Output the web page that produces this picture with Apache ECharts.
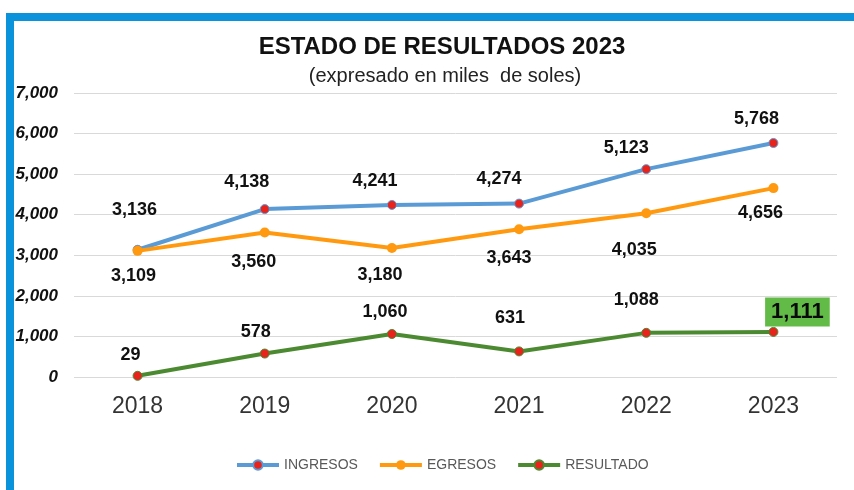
<!DOCTYPE html>
<html><head><meta charset="utf-8">
<script src="https://cdn.jsdelivr.net/npm/echarts@6/dist/echarts.min.js"></script>
<style>html,body{margin:0;padding:0;background:#fff}#c{width:854px;height:490px}</style>
</head><body><div id="c"></div>
<script>
const categories = ['2018','2019','2020','2021','2022','2023'];
const ingresos = [3136, 4138, 4241, 4274, 5123, 5768];
const egresos = [3109, 3560, 3180, 3643, 4035, 4656];
const resultado = [29, 578, 1060, 631, 1088, 1111];
const seriesNames = ['INGRESOS', 'EGRESOS', 'RESULTADO'];
const yTicks = [0, 1000, 2000, 3000, 4000, 5000, 6000, 7000];

// label placement offsets (px) per point
const offIng = [[-3,-40],[-18,-27],[-17,-24],[-20,-25],[-20,-21],[-17,-24]];
const offEgr = [[-4,25],[-11,29],[-12,27],[-10,29],[-12,37],[-13,25]];
const offRes = [[-7,-21],[-9,-22],[-7,-22],[-9,-33],[-10,-33],[24,-20]];

const fmt = v => v.toLocaleString('en-US');
const labelBase = {show:true, position:'inside', fontFamily:'Liberation Sans, Arial, sans-serif', fontWeight:'bold', fontSize:18, color:'#111'};

function build(vals, offs, last) {
  return vals.map((v,i) => {
    const lab = Object.assign({}, labelBase, {offset: offs[i], formatter: () => fmt(v)});
    if (last && i === vals.length - 1) {
      Object.assign(lab, {backgroundColor:'#62BB46', padding:[5,6,2,6], fontSize:22, color:'#0a0a0a'});
    }
    return {value: v, label: lab};
  });
}

const chart = echarts.init(document.getElementById('c'), null, {renderer:'canvas'});
chart.setOption({
  animation:false,
  backgroundColor:'#fff',
  title:[
    {text:'ESTADO DE RESULTADOS 2023', left:437, top:30, textAlign:'center',
     textStyle:{fontFamily:'Liberation Sans, Arial', fontWeight:'bold', fontSize:24, color:'#111'}},
    {text:'(expresado en miles  de soles)', left:440, top:61, textAlign:'center',
     textStyle:{fontFamily:'Liberation Sans, Arial', fontWeight:'normal', fontSize:20, color:'#222'}}
  ],
  graphic:[
    {type:'rect', shape:{x:6, y:13, width:848, height:8}, style:{fill:'#0A93DB'}},
    {type:'rect', shape:{x:6, y:13, width:8, height:477}, style:{fill:'#0A93DB'}}
  ],
  legend:{
    data:seriesNames, left:230, top:453, itemWidth:42, itemHeight:12, itemGap:20,
    lineStyle:{width:4},
    textStyle:{fontFamily:'Liberation Sans, Arial', fontSize:14, color:'#595959'}
  },
  grid:{left:74, right:17, top:93, bottom:490-377},
  xAxis:{
    type:'category', data:categories, boundaryGap:true,
    axisLine:{show:false}, axisTick:{show:false},
    axisLabel:{fontFamily:'Liberation Sans, Arial', fontSize:23, color:'#333', margin:18}
  },
  yAxis:{
    type:'value', min:yTicks[0], max:yTicks[yTicks.length-1], interval:1000,
    axisLine:{show:false}, axisTick:{show:false},
    splitLine:{lineStyle:{color:'#d9d9d9', width:1}},
    axisLabel:{fontFamily:'Liberation Sans, Arial', fontSize:17, fontWeight:'bold', fontStyle:'italic', color:'#111', margin:16,
      formatter: v => fmt(v)}
  },
  series:[
    {name:seriesNames[0], type:'line', data:build(ingresos, offIng, false), symbol:'circle', symbolSize:9,
     lineStyle:{color:'#5B9BD5', width:4}, itemStyle:{color:'#E8231C', borderColor:'#5B9BD5', borderWidth:1}, color:'#5B9BD5', z:3},
    {name:seriesNames[1], type:'line', data:build(egresos, offEgr, false), symbol:'circle', symbolSize:10,
     lineStyle:{color:'#FF9A10', width:4}, itemStyle:{color:'#FF9A10'}, color:'#FF9A10', z:4},
    {name:seriesNames[2], type:'line', data:build(resultado, offRes, true), symbol:'circle', symbolSize:9,
     lineStyle:{color:'#4C8A32', width:4}, itemStyle:{color:'#E8231C', borderColor:'#4C8A32', borderWidth:1}, color:'#4C8A32', z:3}
  ]
});
</script></body></html>
